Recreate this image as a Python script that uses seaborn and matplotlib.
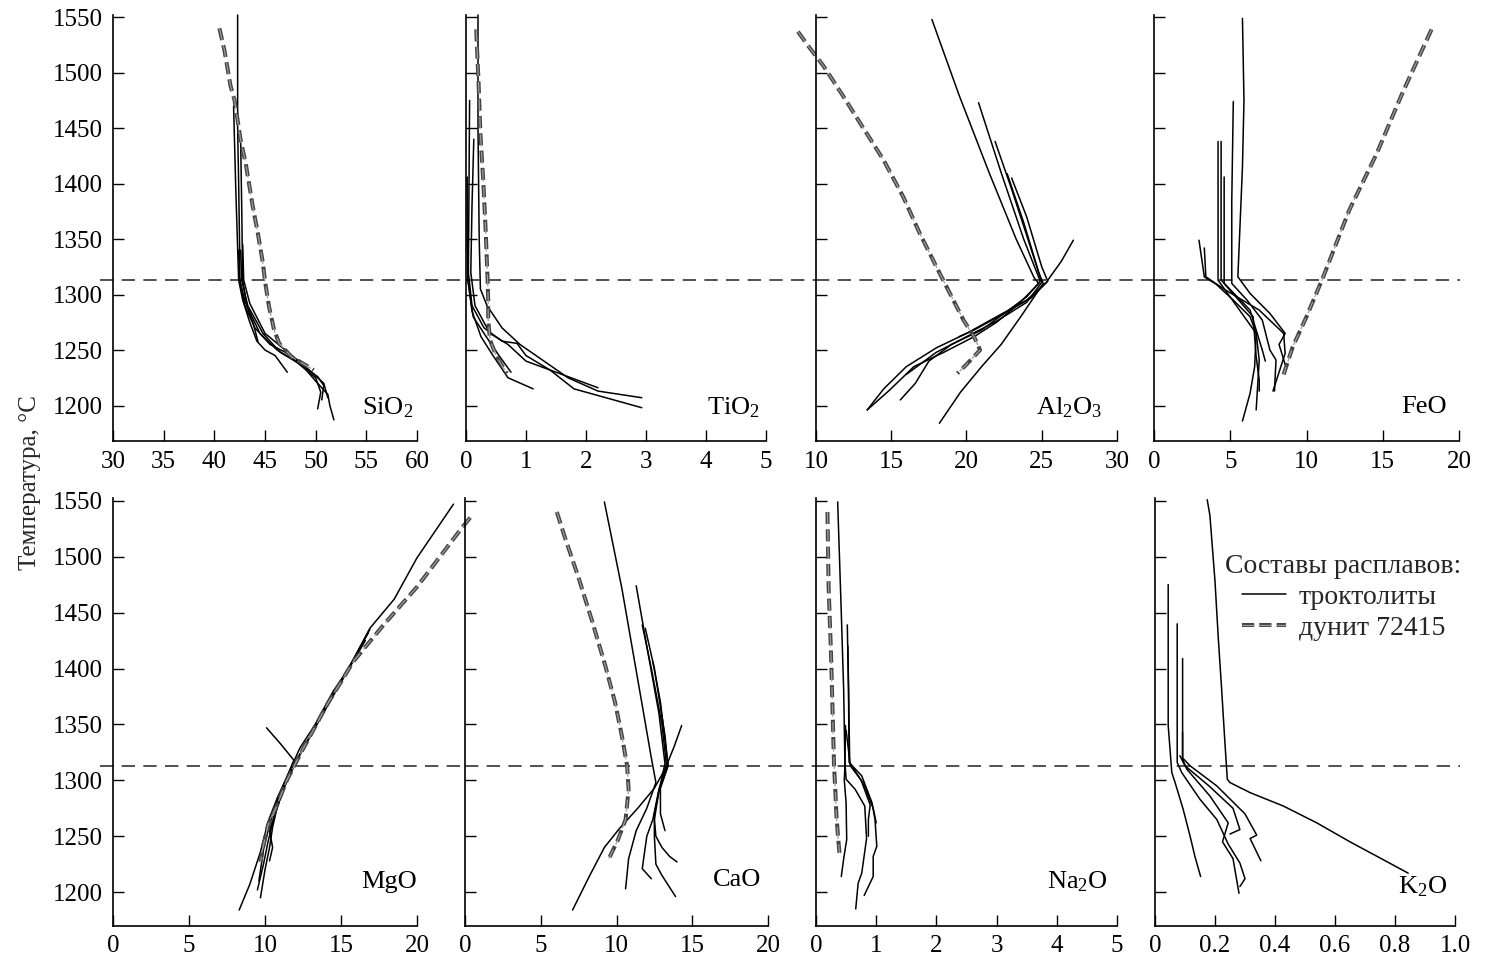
import numpy as np
import pandas as pd
import matplotlib
matplotlib.use("Agg")
import matplotlib.pyplot as plt
from matplotlib.lines import Line2D
import seaborn as sns

# ---------------- data (temperature °C, oxide wt.%) ----------------
T_DIVIDE = 1313

SIO2_DUN_T = [1540, 1520, 1488, 1475, 1457, 1439, 1418, 1379, 1355, 1328, 1312, 1289, 1268, 1256, 1244, 1237, 1232]
SIO2_DUN = [40.5, 41.0, 41.6, 42.0, 42.3, 42.6, 43.1, 43.8, 44.3, 44.8, 45.0, 45.4, 45.9, 46.4, 47.6, 48.9, 49.8]
SIO2_TROCT = [
    ([1552, 1450, 1400, 1340, 1315, 1290, 1270, 1255, 1248, 1238, 1222, 1210, 1200, 1187],
     [42.3, 42.3, 42.4, 42.5, 42.5, 43.0, 44.0, 45.5, 47.0, 48.5, 50.0, 51.2, 51.4, 51.8]),
    ([1470, 1400, 1313, 1295, 1275, 1258, 1250, 1245, 1230],
     [41.9, 42.1, 42.4, 42.8, 43.5, 44.2, 45.0, 46.0, 47.2]),
    ([1437, 1380, 1313, 1290, 1265, 1250, 1240, 1225, 1212, 1197],
     [42.6, 42.7, 42.8, 43.2, 44.5, 46.2, 48.0, 50.0, 50.5, 50.2]),
    ([1340, 1313, 1295, 1275, 1258], [42.4, 42.5, 43.0, 43.8, 44.3]),
    ([1345, 1313, 1292, 1265, 1250, 1235, 1220, 1207],
     [42.8, 42.9, 43.5, 45.0, 47.0, 49.0, 50.8, 51.2]),
    ([1340, 1313, 1290, 1265, 1248, 1237, 1226, 1218, 1205],
     [42.6, 42.7, 43.3, 44.8, 46.5, 48.5, 50.2, 50.8, 50.6]),
]

TIO2_DUN_T = [1539, 1490, 1445, 1400, 1355, 1313, 1295, 1277, 1259, 1244, 1229]
TIO2_DUN = [0.17, 0.21, 0.24, 0.29, 0.33, 0.36, 0.37, 0.37, 0.40, 0.51, 0.68]
TIO2_TROCT = [
    ([1552, 1450, 1350, 1305, 1290, 1270, 1255, 1240, 1225, 1213, 1207],
     [0.20, 0.20, 0.22, 0.24, 0.35, 0.60, 0.90, 1.30, 1.70, 2.20, 2.93]),
    ([1475, 1400, 1320, 1290, 1270, 1258, 1256, 1245, 1232, 1215, 1198],
     [0.06, 0.05, 0.04, 0.10, 0.30, 0.60, 0.85, 1.00, 1.40, 1.80, 2.93]),
    ([1440, 1380, 1320, 1290, 1265, 1255, 1240, 1230, 1216],
     [0.13, 0.10, 0.08, 0.15, 0.40, 0.70, 1.00, 1.50, 2.20]),
    ([1406, 1350, 1315, 1285, 1262, 1245, 1225, 1215],
     [0.02, 0.02, 0.03, 0.10, 0.25, 0.45, 0.70, 1.12]),
    ([1340, 1313, 1280, 1265, 1245, 1230], [0.03, 0.03, 0.12, 0.30, 0.55, 0.75]),
]

AL2O3_DUN_T = [1537, 1522, 1506, 1479, 1451, 1421, 1388, 1355, 1325, 1301, 1277, 1262, 1250, 1237, 1229]
AL2O3_DUN = [8.8, 9.6, 10.5, 11.8, 13.1, 14.5, 15.8, 16.9, 18.0, 18.9, 19.8, 20.5, 20.9, 20.0, 19.4]
AL2O3_TROCT = [
    ([1548, 1480, 1410, 1350, 1315, 1310, 1292, 1275, 1262, 1248, 1235, 1214, 1196],
     [17.7, 19.5, 21.5, 23.3, 24.5, 24.8, 23.5, 22.0, 20.5, 18.5, 16.5, 14.9, 13.4]),
    ([1473, 1410, 1350, 1312, 1298, 1283, 1268, 1255, 1240, 1220, 1205],
     [20.8, 22.3, 23.8, 24.9, 24.0, 22.5, 21.0, 19.0, 17.5, 16.6, 15.6]),
    ([1438, 1395, 1345, 1311, 1293, 1276, 1262, 1248, 1228],
     [21.9, 23.0, 24.2, 25.0, 24.0, 22.0, 20.0, 18.0, 16.0]),
    ([1409, 1365, 1320, 1310, 1300, 1280, 1255, 1235, 1212, 1184],
     [22.7, 23.8, 24.8, 25.1, 24.6, 23.6, 22.3, 21.0, 19.6, 18.2]),
    ([1349, 1330, 1311, 1295, 1280, 1265, 1252, 1235, 1215, 1196],
     [27.1, 26.3, 25.3, 24.0, 22.0, 20.0, 18.0, 16.0, 14.5, 13.4]),
    ([1405, 1370, 1325, 1312, 1297, 1283, 1268, 1262],
     [23.0, 24.0, 25.0, 25.4, 24.3, 22.5, 20.5, 19.5]),
]

FEO_DUN_T = [1539, 1482, 1427, 1376, 1316, 1280, 1253, 1228]
FEO_DUN = [18.2, 16.3, 14.6, 12.8, 11.1, 10.0, 9.1, 8.5]
FEO_TROCT = [
    ([1549, 1475, 1415, 1316, 1301, 1283, 1265, 1255, 1237],
     [5.8, 5.9, 5.8, 5.5, 6.3, 7.6, 8.6, 8.2, 8.6]),
    ([1474, 1385, 1310, 1295, 1277, 1250, 1241, 1213],
     [5.2, 5.1, 5.1, 6.1, 7.1, 7.6, 8.0, 7.9]),
    ([1438, 1313, 1290, 1265, 1241, 1196], [4.2, 4.2, 5.4, 6.7, 6.9, 6.7]),
    ([1438, 1313, 1286, 1250, 1240], [4.4, 4.4, 6.3, 7.1, 7.3]),
    ([1406, 1310, 1280, 1244, 1223, 1213], [4.6, 4.6, 6.5, 6.7, 6.9, 6.9]),
    ([1349, 1316, 1309, 1295, 1280, 1265, 1235, 1211, 1186],
     [2.95, 3.3, 4.1, 5.2, 6.3, 6.7, 6.6, 6.3, 5.8]),
    ([1342, 1316, 1304, 1286, 1265, 1247, 1213], [3.3, 3.4, 4.7, 6.9, 8.5, 8.6, 7.8]),
]

MGO_DUN_T = [1535, 1524, 1473, 1439, 1406, 1368, 1323, 1299, 1278, 1260, 1242, 1227]
MGO_DUN = [23.5, 22.85, 20.0, 17.8, 15.8, 14.1, 12.3, 11.4, 10.8, 10.2, 9.9, 9.7]
MGO_TROCT = [
    ([1547, 1499, 1462, 1436, 1400, 1380, 1350, 1329, 1311, 1284, 1263, 1236, 1207, 1184],
     [22.4, 20.0, 18.5, 16.9, 15.5, 14.5, 13.3, 12.3, 11.7, 10.8, 10.2, 9.7, 9.0, 8.3]),
    ([1435, 1405, 1377, 1345, 1318, 1298, 1280, 1262, 1245, 1225, 1202],
     [16.9, 15.7, 14.5, 13.2, 12.1, 11.4, 10.9, 10.5, 10.2, 9.9, 9.5]),
    ([1432, 1403, 1374, 1343, 1316, 1295, 1276, 1258, 1240, 1220, 1195],
     [16.8, 15.6, 14.4, 13.1, 12.0, 11.3, 10.8, 10.5, 10.3, 10.0, 9.7]),
    ([1425, 1397, 1369, 1340, 1314, 1292, 1272, 1255, 1240, 1228],
     [16.6, 15.4, 14.2, 13.0, 11.9, 11.2, 10.7, 10.3, 10.5, 10.3]),
    ([1347, 1333, 1318, 1295, 1274, 1255, 1238, 1210],
     [10.1, 11.0, 11.9, 11.2, 10.6, 10.2, 9.9, 9.6]),
]

CAO_DUN_T = [1540, 1517, 1481, 1442, 1403, 1370, 1340, 1313, 1292, 1265, 1247, 1230]
CAO_DUN = [6.06, 6.6, 7.5, 8.4, 9.25, 9.9, 10.35, 10.7, 10.8, 10.6, 10.1, 9.5]
CAO_TROCT = [
    ([1549, 1472, 1367, 1320, 1298, 1275, 1255, 1230, 1203],
     [9.2, 10.35, 11.7, 12.3, 12.6, 12.0, 11.3, 10.8, 10.6]),
    ([1474, 1420, 1360, 1315, 1290, 1265, 1250, 1240, 1232, 1227],
     [11.3, 12.0, 12.8, 13.2, 12.8, 12.5, 12.6, 13.0, 13.5, 14.0]),
    ([1439, 1400, 1350, 1313, 1292, 1265, 1250, 1221, 1212],
     [11.7, 12.3, 13.0, 13.3, 12.8, 12.4, 12.0, 11.7, 12.3]),
    ([1406, 1370, 1313, 1290, 1270, 1250, 1225, 1215, 1196],
     [12.4, 12.9, 13.4, 12.8, 12.5, 12.5, 12.6, 13.0, 13.9]),
    ([1349, 1330, 1310, 1293, 1275, 1257, 1240, 1214, 1184],
     [14.3, 13.8, 13.2, 12.5, 11.4, 10.2, 9.2, 8.2, 7.1]),
    ([1436, 1400, 1340, 1313, 1293, 1270, 1255],
     [11.9, 12.5, 13.2, 13.4, 12.9, 12.9, 13.2]),
]

NA2O_DUN_T = [1540, 1472, 1412, 1352, 1313, 1292, 1268, 1247, 1235]
NA2O_DUN = [0.19, 0.21, 0.25, 0.28, 0.30, 0.32, 0.34, 0.37, 0.39]
NA2O_TROCT = [
    ([1549, 1450, 1380, 1316, 1301, 1292, 1277, 1248, 1217, 1208, 1185],
     [0.36, 0.42, 0.46, 0.48, 0.50, 0.65, 0.81, 0.84, 0.76, 0.70, 0.66]),
    ([1439, 1380, 1316, 1304, 1280, 1265, 1241, 1232, 1214, 1197],
     [0.52, 0.54, 0.55, 0.76, 0.93, 0.98, 1.01, 0.95, 0.95, 0.80]),
    ([1349, 1313, 1300, 1280, 1247, 1230, 1214],
     [0.49, 0.48, 0.47, 0.50, 0.51, 0.46, 0.42]),
    ([1420, 1316, 1300, 1278, 1265, 1250], [0.53, 0.56, 0.75, 0.90, 0.87, 0.87]),
    ([1345, 1313, 1298, 1275, 1262], [0.50, 0.57, 0.78, 0.95, 1.00]),
]

K2O_TROCT = [
    ([1551, 1537, 1478, 1427, 1382, 1334, 1301, 1298, 1289, 1277, 1262, 1245, 1229, 1217],
     [0.174, 0.183, 0.200, 0.211, 0.222, 0.233, 0.241, 0.250, 0.317, 0.428, 0.539, 0.650, 0.761, 0.844]),
    ([1475, 1349, 1307, 1298, 1274, 1250, 1232, 1214],
     [0.044, 0.044, 0.056, 0.067, 0.094, 0.117, 0.133, 0.152]),
    ([1440, 1316, 1307, 1283, 1265, 1243, 1226, 1212, 1205],
     [0.074, 0.074, 0.089, 0.150, 0.206, 0.244, 0.283, 0.300, 0.283]),
    ([1409, 1319, 1310, 1286, 1262, 1245, 1230, 1199],
     [0.092, 0.092, 0.106, 0.183, 0.244, 0.225, 0.260, 0.280]),
    ([1343, 1320, 1313, 1295, 1270, 1251, 1248, 1228],
     [0.092, 0.092, 0.117, 0.206, 0.300, 0.339, 0.317, 0.353]),
    ([1322, 1313, 1295, 1275, 1256, 1252],
     [0.083, 0.100, 0.180, 0.260, 0.283, 0.250]),
]

LABELS = ["SiO$_2$", "TiO$_2$", "Al$_2$O$_3$", "FeO", "MgO", "CaO", "Na$_2$O", "K$_2$O"]
XLIMS = [(30, 60), (0, 5), (10, 30), (0, 20), (0, 20), (0, 20), (0, 5), (0, 1.0)]
XTICKS = [[30, 35, 40, 45, 50, 55, 60], [0, 1, 2, 3, 4, 5], [10, 15, 20, 25, 30],
          [0, 5, 10, 15, 20], [0, 5, 10, 15, 20], [0, 5, 10, 15, 20], [0, 1, 2, 3, 4, 5],
          [0, 0.2, 0.4, 0.6, 0.8, 1.0]]
XTICKLABELS = [None, None, None, None, None, None, None, ["0", "0.2", "0.4", "0.6", "0.8", "1.0"]]
YTICKS = [1200, 1250, 1300, 1350, 1400, 1450, 1500, 1550]
LEGEND_TITLE = "Составы расплавов:"
LEGEND_LABELS = ["троктолиты", "дунит 72415"]
YLABEL = "Температура, °C"

DUNITES = [(SIO2_DUN_T, SIO2_DUN), (TIO2_DUN_T, TIO2_DUN), (AL2O3_DUN_T, AL2O3_DUN),
           (FEO_DUN_T, FEO_DUN), (MGO_DUN_T, MGO_DUN), (CAO_DUN_T, CAO_DUN),
           (NA2O_DUN_T, NA2O_DUN), None]
TROCTS = [SIO2_TROCT, TIO2_TROCT, AL2O3_TROCT, FEO_TROCT, MGO_TROCT, CAO_TROCT, NA2O_TROCT, K2O_TROCT]

# ---------------- styling / layout ----------------
sns.set_theme(style="ticks")
plt.rcParams["font.family"] = ["Liberation Serif", "DejaVu Serif"]
plt.rcParams["mathtext.fontset"] = "custom"
plt.rcParams["mathtext.rm"] = "Liberation Serif"
plt.rcParams["mathtext.it"] = "Liberation Serif:italic"
plt.rcParams["mathtext.bf"] = "Liberation Serif:bold"

W, H = 1488, 965
fig = plt.figure(figsize=(W / 100, H / 100), dpi=100)

# pixel boxes of the panels: (left, right) per column, (top, bottom) per row
COLS_TOP = [(113, 417), (466, 766), (816, 1117), (1154, 1459)]
COLS_BOT = [(113, 417), (465, 768), (816, 1117), (1155, 1455)]
ROWS = [(15, 441), (498, 925.7)]
YLIMS = [(1168, 1552), (1170, 1552.5)]
LABEL_POS = [(0.987, 0.077), (0.98, 0.077), (0.951, 0.077), (0.96, 0.08),
             (1.0, 0.103), (0.977, 0.107), (0.97, 0.103), (0.973, 0.091)]

DUN_OUT = dict(color="#444444", lw=2.9, linestyle=(0, (3.0, 1.3)))
DUN_IN = dict(color="#9c9c9c", lw=0.9, linestyle=(0, (9.67, 4.33)))
TROCT_KW = dict(color="black", lw=1.1)

axes = []
for i in range(8):
    r, c = divmod(i, 4)
    cols = COLS_TOP if r == 0 else COLS_BOT
    l, rr = cols[c]
    t, b = ROWS[r]
    ax = fig.add_axes([l / W, 1 - b / H, (rr - l) / W, (b - t) / H])
    axes.append(ax)

    for temps, vals in TROCTS[i]:
        sns.lineplot(x=vals, y=temps, sort=False, estimator=None, ax=ax,
                     clip_on=False, **TROCT_KW)
    if DUNITES[i] is not None:
        dt, dv = DUNITES[i]
        sns.lineplot(x=dv, y=dt, sort=False, estimator=None, ax=ax, clip_on=False, **DUN_OUT)
        sns.lineplot(x=dv, y=dt, sort=False, estimator=None, ax=ax, clip_on=False, **DUN_IN)

    ax.set_xlim(*XLIMS[i])
    ax.set_ylim(*YLIMS[r])
    ax.set_xticks(XTICKS[i])
    if XTICKLABELS[i] is not None:
        ax.set_xticklabels(XTICKLABELS[i])
    else:
        ax.set_xticklabels([str(v) for v in XTICKS[i]])
    ax.set_yticks(YTICKS)
    if c > 0:
        ax.set_yticklabels([])
    ax.set_xlabel("")
    ax.set_ylabel("")
    ax.tick_params(direction="in", length=8, width=1.0, labelsize=18, pad=7, colors="black")
    for s in ["top", "right"]:
        ax.spines[s].set_visible(False)
    for s in ["left", "bottom"]:
        ax.spines[s].set_linewidth(1.2)
        ax.spines[s].set_color("black")
    ax.set_facecolor("none")

    # dashed divide line, continuous across the gaps between panels
    width = rr - l
    xmin = (100 - l) / width if c == 0 else 0.0
    xmax = (cols[c + 1][0] - l) / width if c < 3 else (1460 - l) / width
    ax.axhline(T_DIVIDE, xmin=xmin, xmax=xmax, color="#333333", lw=1.2,
               linestyle=(0, (8, 5)), clip_on=False, zorder=1)

    lx, ly = LABEL_POS[i]
    ax.text(lx, ly, LABELS[i], transform=ax.transAxes, ha="right", va="center",
            fontsize=19, color="black")

# legend in the K2O panel
ax = axes[7]
h_tr = Line2D([], [], **TROCT_KW)
h_do = Line2D([], [], **DUN_OUT)
h_di = Line2D([], [], **DUN_IN)
leg = ax.legend([h_tr, (h_do, h_di)], LEGEND_LABELS, title=LEGEND_TITLE,
                loc="upper left", bbox_to_anchor=(0.17, 0.915), frameon=False,
                fontsize=20, title_fontsize=20, handlelength=1.6, handletextpad=0.45,
                labelspacing=0.2, borderpad=0.2)

fig.text(30 / W, 0.5, YLABEL, rotation=90, ha="center", va="center", fontsize=18)

fig.savefig("out.png", dpi=100, facecolor="white")
